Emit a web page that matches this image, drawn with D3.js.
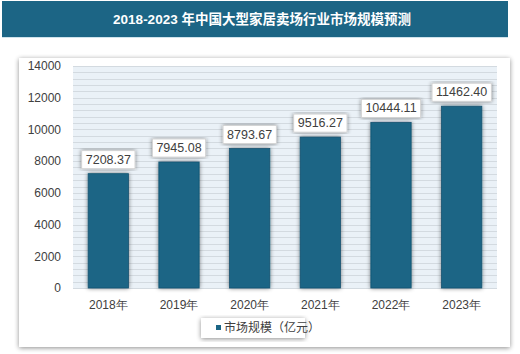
<!DOCTYPE html>
<html><head><meta charset="utf-8">
<script src="https://cdn.jsdelivr.net/npm/d3@7"></script>
<style>body{margin:0;background:#fff;}svg{display:block;font-family:"Liberation Sans","Noto Sans CJK SC",sans-serif;}</style>
</head><body>
<script>
const title = "2018-2023 年中国大型家居卖场行业市场规模预测";
const categories = ["2018年","2019年","2020年","2021年","2022年","2023年"];
const values = [7208.37, 7945.08, 8793.67, 9516.27, 10444.11, 11462.40];
const yTicks = [0,2000,4000,6000,8000,10000,12000,14000];
const seriesName = "市场规模（亿元）";

const W=520,H=354;
const svg=d3.select("body").append("svg").attr("width",W).attr("height",H);
const defs=svg.append("defs");
const f=defs.append("filter").attr("id","sh").attr("x","-20%").attr("y","-20%").attr("width","140%").attr("height","140%");
f.append("feGaussianBlur").attr("in","SourceAlpha").attr("stdDeviation",2.5);
f.append("feOffset").attr("dx",0).attr("dy",1).attr("result","b");
f.append("feComponentTransfer").append("feFuncA").attr("type","linear").attr("slope",0.45);
const m=f.append("feMerge");m.append("feMergeNode");m.append("feMergeNode").attr("in","SourceGraphic");
const f2=defs.append("filter").attr("id","bs").attr("x","-30%").attr("y","-10%").attr("width","160%").attr("height","120%");
f2.append("feGaussianBlur").attr("in","SourceAlpha").attr("stdDeviation",2);
f2.append("feComponentTransfer").append("feFuncA").attr("type","linear").attr("slope",0.5);
const m2=f2.append("feMerge");m2.append("feMergeNode");m2.append("feMergeNode").attr("in","SourceGraphic");

// title bar
svg.append("rect").attr("x",2).attr("y",1).attr("width",506).attr("height",36).attr("fill","#1c6585");
svg.append("line").attr("x1",2).attr("x2",508).attr("y1",37.5).attr("y2",37.5).attr("stroke","#cfe3ec");
svg.append("text").attr("x",262).attr("y",24).attr("text-anchor","middle").attr("fill","#fff")
  .attr("font-size",13.5).attr("font-weight","bold").text(title);

// card
svg.append("rect").attr("x",19).attr("y",58).attr("width",491).attr("height",289).attr("fill","#fff").attr("filter","url(#sh)");

const x=d3.scaleBand().domain(categories).range([73,497]).paddingInner(0.43).paddingOuter(0.215);
const y=d3.scaleLinear().domain([0,14000]).range([288,66]);

svg.append("rect").attr("x",73).attr("y",66).attr("width",424).attr("height",222).attr("fill","#eaf1f7");
svg.append("g").selectAll("line").data(d3.range(0,14001,400)).join("line")
  .attr("x1",73).attr("x2",497).attr("y1",d=>Math.round(y(d))+0.5).attr("y2",d=>Math.round(y(d))+0.5)
  .attr("stroke","#d3dae0").attr("stroke-width",1);

const ya=svg.append("g").attr("transform","translate(73,0)").call(d3.axisLeft(y).tickValues(yTicks).tickSize(0).tickPadding(12).tickFormat(d3.format("d")));
ya.select(".domain").remove();
ya.selectAll("text").attr("font-size",12).attr("fill","#404040").attr("font-family","Liberation Sans, sans-serif");

const xa=svg.append("g").attr("transform","translate(0,288)").call(d3.axisBottom(x).tickSize(0).tickPadding(12));
xa.select(".domain").remove();
xa.selectAll("text").attr("font-size",12).attr("fill","#404040");

svg.append("g").selectAll("rect").data(values).join("rect")
  .attr("x",(d,i)=>x(categories[i])).attr("y",d=>y(d)).attr("width",x.bandwidth()).attr("height",d=>288-y(d))
  .attr("fill","#1b6585").attr("stroke","#155370").attr("stroke-width",0.8).attr("filter","url(#bs)");

const lg=svg.append("g").selectAll("g").data(values).join("g");
lg.each(function(d,i){
  const g=d3.select(this);
  const cx=x(categories[i])+x.bandwidth()/2;
  const t=g.append("text").attr("x",cx).attr("y",y(d)-10).attr("text-anchor","middle")
    .attr("font-size",12.5).attr("fill","#404040").text(d3.format(".2f")(d));
  const bb=t.node().getBBox();
  g.insert("rect","text").attr("x",bb.x-4).attr("y",y(d)-23).attr("width",bb.width+8).attr("height",18)
    .attr("fill","#fff").attr("stroke","#d0d0d0").attr("stroke-width",0.8).attr("filter","url(#bs)");
});

// legend
const lgd=svg.append("g");
lgd.append("rect").attr("x",201).attr("y",318).attr("width",104).attr("height",20).attr("fill","#fff").attr("filter","url(#sh)");
lgd.append("rect").attr("x",216).attr("y",325).attr("width",5).attr("height",5).attr("fill","#1b6585");
lgd.append("text").attr("x",224).attr("y",332).attr("font-size",12).attr("fill","#404040").text(seriesName);
</script>
</body></html>
